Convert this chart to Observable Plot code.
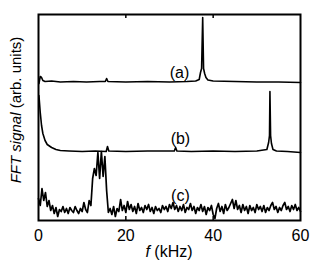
<!DOCTYPE html>
<html><head><meta charset="utf-8">
<script src="https://cdn.jsdelivr.net/npm/d3@7"></script>
<script src="https://cdn.jsdelivr.net/npm/@observablehq/plot@0.6"></script>
<style>body{margin:0;background:#fff;} svg{display:block}</style>
</head><body><div id="chart"></div>
<script>
// x axis ticks (kHz)
const xTicks = [0, 20, 40, 60];
const innerTicks = [20, 40];

// Trace (a): [f (kHz), signal (arb. units)]
const traceA = [
  [0.1,137],[0.4,144],[0.7,143],[1.0,140],[1.5,139],[3,139.5],[5,138.5],[8,139],[11,138.5],
  [14,139],[15.3,139],[15.6,142],[15.9,139],[20,138.5],[25,139],[30,138.5],[34,139],[36,139.5],
  [36.8,141],[37.1,148],[37.35,152],[37.6,203],[37.8,152],[38.05,147],[38.35,143],[38.8,140.5],
  [40,139.5],[45,139],[50,138.5],[55,138.5],[60,138]
];

// Trace (b)
const traceB = [
  [0.1,125],[0.4,108],[0.7,95],[1.0,87],[1.5,80],[2.0,76],[3.0,73],[4.0,71],[5.0,70],[7,69.5],
  [10,69],[13,69.5],[15.5,69],[15.8,74],[16.1,69.5],[20,69],[25,69.5],[31.1,69.5],[31.4,73],
  [31.7,69.5],[35,69],[40,69.5],[45,69],[50,69.5],[52.3,71],[52.7,78],[52.9,85],[53.0,129],
  [53.15,85],[53.35,77],[53.7,71],[54.5,69.5],[57,69],[60,68]
];

// Trace (c): FFT bins every 0.4 kHz from 0 to 60 kHz
const cBinWidth = 0.4;
const traceCValues = [
  22,15,32,20,28,14,20,10,15,7,
  13,4,11,9,14,8,12,7,13,10,
  8,14,10,7,12,9,18,11,8,20,
  15,42,52,45,68,42,69,44,64,30,
  8,12,6,14,4,12,9,21,10,15,
  8,19,11,16,9,14,7,17,10,13,
  8,15,11,16,9,13,7,14,10,12,
  8,15,11,14,9,16,12,18,11,15,
  9,14,10,16,8,13,11,17,10,14,
  7,13,10,16,9,14,6,13,10,15,
  6,2,12,17,9,14,7,16,10,13,
  17,21,12,20,11,15,8,16,10,14,
  7,15,10,13,8,16,11,14,9,15,
  8,13,10,15,18,11,14,8,13,10,
  15,18,11,14,9,15,11,16,10,13,
  9
];
const traceC = traceCValues.map((v, i) => [i * cBinWidth, v]);

// Curve labels
const curveLabels = ["(a)", "(b)", "(c)"];
const labelF = [32.3, 32.5, 32.5];
const labelV = [147.5, 81.5, 25];
const labels = curveLabels.map((t, i) => ({t, f: labelF[i], v: labelV[i]}));

const yDomain = [0, 206];
const font = "'Liberation Sans', Arial, Helvetica, sans-serif";

const chart = Plot.plot({
  width: 314, height: 266,
  marginLeft: 38, marginRight: 14, marginTop: 14, marginBottom: 46,
  style: {fontFamily: font, fontSize: "16px", background: "white", color: "black"},
  x: {domain: [0, 60]},
  y: {domain: yDomain},
  marks: [
    Plot.line(traceA, {x: d => d[0], y: d => d[1], stroke: "black", strokeWidth: 1.6}),
    Plot.line(traceB, {x: d => d[0], y: d => d[1], stroke: "black", strokeWidth: 1.6}),
    Plot.line(traceC, {x: d => d[0], y: d => d[1], stroke: "black", strokeWidth: 1.7}),
    Plot.text(labels, {x: "f", y: "v", text: "t", fontSize: 16, fill: "black"}),
    Plot.ruleX(innerTicks, {insetTop: 202, stroke: "black", strokeWidth: 1.5}),
    Plot.ruleX(innerTicks, {insetBottom: 202, stroke: "black", strokeWidth: 1.5}),
    Plot.axisX({ticks: xTicks, tickSize: 0, tickPadding: 9, fontSize: 16, label: null}),
    Plot.axisY({ticks: [], label: null}),
    Plot.frame({stroke: "black", strokeWidth: 2})
  ]
});
document.getElementById("chart").appendChild(chart);

const svg = d3.select(chart);
const yl = svg.append("text")
  .attr("transform", "translate(21,110) rotate(-90)")
  .attr("text-anchor", "middle")
  .attr("font-family", font).attr("font-size", 15).attr("fill", "black");
yl.append("tspan").attr("font-style", "italic").text("FFT signal");
yl.append("tspan").text(" (arb. units)");

const xl = svg.append("text")
  .attr("x", 169).attr("y", 257)
  .attr("text-anchor", "middle")
  .attr("font-family", font).attr("font-size", 16).attr("fill", "black");
xl.append("tspan").attr("font-style", "italic").text("f");
xl.append("tspan").text(" (kHz)");
</script>
</body></html>
